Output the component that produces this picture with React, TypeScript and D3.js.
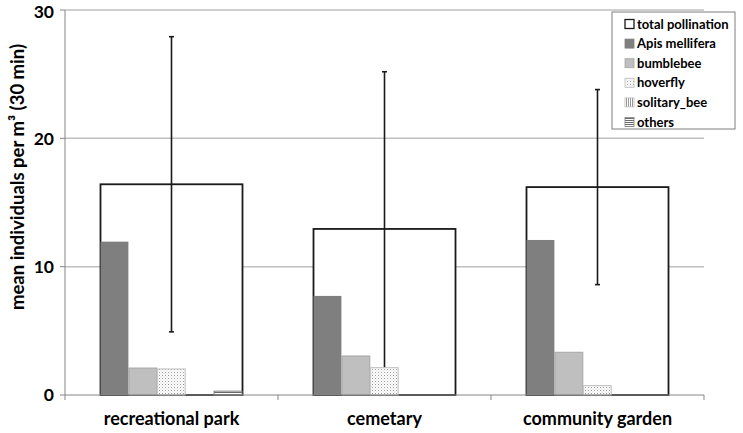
import React from "react";
import * as d3 from "d3";

const categories = ["recreational park", "cemetary", "community garden"];
const totalPollination = [16.42, 12.94, 16.2];
const totalError = [11.5, 12.25, 7.6];
const seriesNames = ["Apis mellifera", "bumblebee", "hoverfly", "solitary_bee", "others"];
const apisMellifera = [11.95, 7.72, 12.08];
const bumblebee = [2.1, 3.04, 3.33];
const hoverfly = [2.03, 2.13, 0.73];
const solitaryBee = [0, 0, 0];
const others = [0.3, 0, 0];
const yTicks = [0, 10, 20, 30];
const yTitle = "mean individuals per m³ (30 min)";

const W = 743;
const H = 433;
const FONT = "Lato, 'Open Sans', sans-serif";

export default function App() {
  const left = 65;
  const right = 704;
  const top = 10;
  const bottom = 395;
  const x = d3.scaleBand<string>().domain(categories).range([left, right]).paddingInner(1 / 3).paddingOuter(1 / 6);
  const y = d3.scaleLinear().domain([0, 30]).range([bottom, top]);
  const sub = d3.scaleBand<string>().domain(seriesNames).range([0, x.bandwidth()]).padding(0);
  const seriesVals = [apisMellifera, bumblebee, hoverfly, solitaryBee, others];
  const fills = ["#7f7f7f", "#bfbfbf", "url(#dots)", "url(#vlines)", "url(#hlines)"];
  const strokes = ["none", "#a6a6a6", "#bfbfbf", "#bfbfbf", "#7f7f7f"];
  const step = x.step();
  const catTicks = [0, 1, 2, 3].map((i) => left + i * step);

  return (
    <svg width={W} height={H} style={{ position: "absolute", left: 0, top: 0 }} fontFamily={FONT}>
      <defs>
        <pattern id="dots" width="3" height="3" patternUnits="userSpaceOnUse">
          <rect width="3" height="3" fill="#ffffff" />
          <rect x="0" y="0" width="1" height="1" fill="#9a9a9a" />
          <rect x="1.5" y="1.5" width="1" height="1" fill="#c8c8c8" />
        </pattern>
        <pattern id="vlines" width="2" height="2" patternUnits="userSpaceOnUse">
          <rect width="2" height="2" fill="#ffffff" />
          <rect x="0" y="0" width="1" height="2" fill="#9a9a9a" />
        </pattern>
        <pattern id="hlines" width="2" height="2" patternUnits="userSpaceOnUse">
          <rect width="2" height="2" fill="#ffffff" />
          <rect x="0" y="0" width="2" height="1" fill="#6a6a6a" />
        </pattern>
      </defs>
      <rect width={W} height={H} fill="#ffffff" />
      {yTicks.filter((t) => t > 0).map((t) => (
        <line key={t} x1={left} x2={right} y1={y(t)} y2={y(t)} stroke="#c0c0c0" strokeWidth={1.5} />
      ))}
      {categories.map((c, i) => (
        <rect key={c} x={x(c)!} y={y(totalPollination[i])} width={x.bandwidth()} height={bottom - y(totalPollination[i])}
          fill="#ffffff" stroke="#1a1a1a" strokeWidth={1.8} />
      ))}
      {categories.map((c, i) => {
        const cx = x(c)! + x.bandwidth() / 2;
        const hi = y(totalPollination[i] + totalError[i]);
        const lo = y(totalPollination[i] - totalError[i]);
        return (
          <g key={c} stroke="#1a1a1a" strokeWidth={1.6}>
            <line x1={cx} x2={cx} y1={hi} y2={lo} />
            <line x1={cx - 2.5} x2={cx + 2.5} y1={hi} y2={hi} />
            <line x1={cx - 2.5} x2={cx + 2.5} y1={lo} y2={lo} />
          </g>
        );
      })}
      {categories.map((c, i) => (
        <g key={c}>
          {seriesNames.map((s, j) => {
            const v = seriesVals[j][i];
            if (v <= 0) return null;
            return (
              <rect key={s} x={x(c)! + sub(s)!} y={y(v)} width={sub.bandwidth() - 0.5} height={bottom - y(v)}
                fill={fills[j]} stroke={strokes[j]} strokeWidth={1} />
            );
          })}
        </g>
      ))}
      <line x1={left} x2={left} y1={top} y2={bottom} stroke="#868686" strokeWidth={1} />
      <line x1={left} x2={right} y1={bottom} y2={bottom} stroke="#868686" strokeWidth={1} />
      {yTicks.map((t) => (
        <g key={t}>
          <line x1={left - 5} x2={left} y1={y(t)} y2={y(t)} stroke="#868686" />
          <text x={left - 11} y={Math.max(y(t) + 6.3, 17.5)} textAnchor="end" fontSize={17.5} fontWeight="bold" fill="#000">{t}</text>
        </g>
      ))}
      {catTicks.map((t, i) => (
        <line key={i} x1={t} x2={t} y1={bottom} y2={bottom + 5} stroke="#868686" />
      ))}
      {categories.map((c) => (
        <text key={c} x={x(c)! + x.bandwidth() / 2} y={425} textAnchor="middle" fontSize={18} fontWeight="bold" fill="#000">{c}</text>
      ))}
      <text transform={`translate(24,${177}) rotate(-90)`} textAnchor="middle" fontSize={18.5} fontWeight="bold" fill="#000">{yTitle}</text>
      <g>
        <rect x={612} y={12} width={123} height={117} fill="#ffffff" stroke="#7f7f7f" strokeWidth={1} />
        {["total pollination", ...seriesNames].map((s, k) => {
          const ly = 24 + k * 19.6;
          const sw = k === 0
            ? <rect x={625} y={ly - 4.5} width={9} height={9} fill="#fff" stroke="#1a1a1a" strokeWidth={1.3} />
            : <rect x={625} y={ly - 4.5} width={9} height={9} fill={fills[k - 1]} stroke={k - 1 === 0 ? "#7f7f7f" : strokes[k - 1]} strokeWidth={0.8} />;
          return (
            <g key={s}>
              {sw}
              <text x={637} y={ly} dy="0.36em" fontSize={13} fontWeight="bold" fill="#000">{s}</text>
            </g>
          );
        })}
      </g>
    </svg>
  );
}
